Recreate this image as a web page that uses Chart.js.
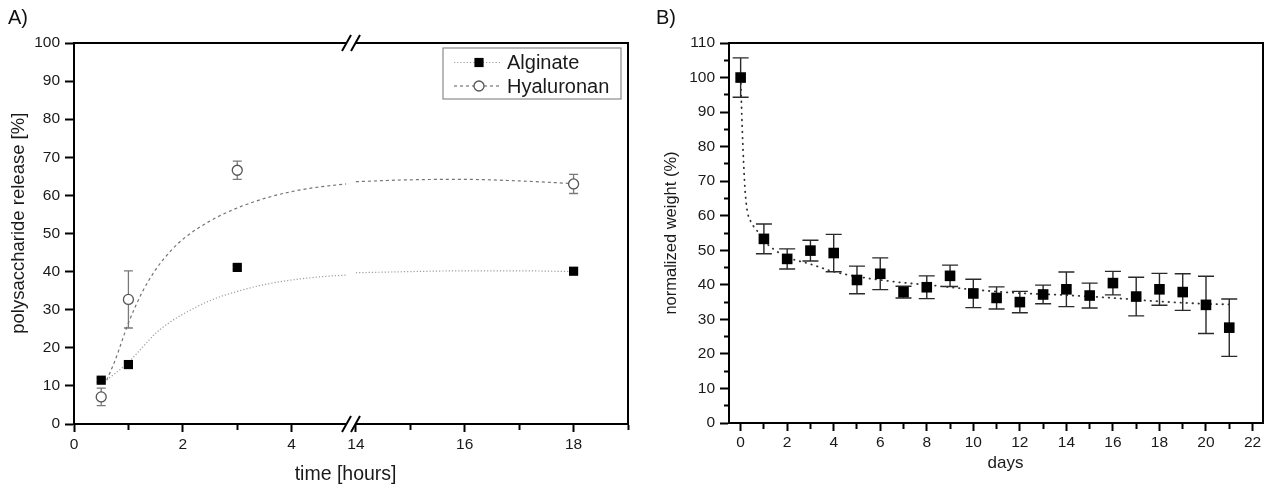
<!DOCTYPE html>
<html>
<head>
<meta charset="utf-8">
<script src="https://cdn.jsdelivr.net/npm/chart.js@4.4.1/dist/chart.umd.min.js"></script>
<style>
html, body { margin: 0; padding: 0; background: #fff; }
#wrap { position: relative; width: 1272px; height: 486px; overflow: hidden; }
.panel { position: absolute; top: 0; height: 486px; }
#pA { left: 0; width: 640px; }
#pB { left: 640px; width: 632px; }
.tag { position: absolute; top: 6px; font: 20px "Liberation Sans", Arial, sans-serif; color: #111; }
</style>
</head>
<body>
<div id="wrap">
  <div class="panel" id="pA"><canvas id="chartA"></canvas></div>
  <div class="panel" id="pB"><canvas id="chartB"></canvas></div>
  <div class="tag" style="left:8px">A)</div>
  <div class="tag" style="left:656px">B)</div>
</div>
<script>
// ---- A) polysaccharide release over time ----
const relTime = [0.5, 1, 3, 18];
const alginate = [11.5, 15.6, 41.1, 40.1];
const alginateSd = [0.5, 0.5, 0.5, 0.5];
const hyaluronan = [7.1, 32.7, 66.6, 63.0];
const hyaluronanSd = [2.3, 7.5, 2.4, 2.5];

// fitted release curves
const fitTime = [0.6, 0.75, 1, 1.25, 1.5, 1.75, 2, 2.5, 3, 3.5, 4, 4.5, 5, 14, 15, 16, 17, 18];
const alginateFit = [11.6, 13.2, 16.2, 20.0, 23.8, 26.6, 28.8, 32.4, 34.8, 36.6, 37.8, 38.6, 39.1, 39.7, 40.0, 40.2, 40.2, 40.0];
const hyaluronanFit = [11.5, 16.5, 26.5, 34.5, 40.5, 45.0, 48.5, 53.3, 56.7, 59.2, 61.0, 62.2, 63.0, 63.6, 64.1, 64.2, 63.8, 63.1];

const hourTicksLow = [0, 1, 2, 3, 4];
const hourTicksHigh = [14, 15, 16, 17, 18, 19];
const releaseTicks = [0, 10, 20, 30, 40, 50, 60, 70, 80, 90, 100];

// ---- B) normalized weight over days ----
const days = [0, 1, 2, 3, 4, 5, 6, 7, 8, 9, 10, 11, 12, 13, 14, 15, 16, 17, 18, 19, 20, 21];
const weight = [100, 53.3, 47.5, 49.9, 49.2, 41.4, 43.2, 37.9, 39.3, 42.6, 37.5, 36.2, 35.0, 37.2, 38.7, 36.9, 40.5, 36.6, 38.7, 37.9, 34.2, 27.6];
const weightSd = [5.7, 4.3, 2.9, 3.0, 5.4, 4.0, 4.6, 1.7, 3.3, 3.1, 4.1, 3.2, 3.1, 2.7, 5.0, 3.6, 3.4, 5.6, 4.6, 5.3, 8.3, 8.3];
const fitDays = [0, 0.03, 0.07, 0.13, 0.19, 0.27, 0.46, 0.67, 1, 1.4, 2, 3, 4, 5, 6, 7, 8, 9, 10, 12, 14, 16, 18, 20, 21.2];
const weightFit = [100, 93.5, 85, 75, 67.5, 62, 58, 56, 52.8, 50.4, 48.0, 46.0, 43.8, 42.4, 41.4, 40.6, 40.0, 39.3, 38.6, 37.6, 37.0, 36.2, 35.2, 34.5, 34.3];

const dayTicks = [0, 1, 2, 3, 4, 5, 6, 7, 8, 9, 10, 11, 12, 13, 14, 15, 16, 17, 18, 19, 20, 21, 22];
const weightTicks = [0, 5, 10, 15, 20, 25, 30, 35, 40, 45, 50, 55, 60, 65, 70, 75, 80, 85, 90, 95, 100, 105, 110];

const ink = '#1a1a1a';
const family = '"Liberation Sans", Arial, sans-serif';
Chart.defaults.font.family = family;
Chart.defaults.color = ink;

// points whose x lies inside [lo, hi], with optional sd
function pts(xs, ys, sd, lo, hi) {
  const out = [];
  xs.forEach((x, i) => {
    if (x >= lo && x <= hi) out.push({x: x, y: ys[i], sd: sd ? sd[i] : 0});
  });
  return out;
}

// vertical error bars with caps
const errorBars = {
  id: 'errorBars',
  beforeDatasetsDraw(chart) {
    const ctx = chart.ctx;
    chart.data.datasets.forEach((ds, di) => {
      if (!ds.errorBar) return;
      const meta = chart.getDatasetMeta(di);
      const xs = chart.scales[meta.xAxisID], ys = chart.scales[meta.yAxisID];
      const c = ds.errorBar.cap / 2;
      ctx.save();
      ctx.strokeStyle = ds.errorBar.color;
      ctx.lineWidth = ds.errorBar.width;
      ds.data.forEach(p => {
        if (!p.sd) return;
        const x = xs.getPixelForValue(p.x);
        const t = ys.getPixelForValue(p.y + p.sd), b = ys.getPixelForValue(p.y - p.sd);
        ctx.beginPath();
        ctx.moveTo(x, t); ctx.lineTo(x, b);
        ctx.moveTo(x - c, t); ctx.lineTo(x + c, t);
        ctx.moveTo(x - c, b); ctx.lineTo(x + c, b);
        ctx.stroke();
      });
      ctx.restore();
    });
  }
};

// "//" marks where the time axis jumps
const axisBreak = {
  id: 'axisBreak',
  afterDraw(chart, args, opts) {
    if (!opts.from) return;
    const bx = chart.scales[opts.from].right;
    const ctx = chart.ctx;
    [chart.chartArea.top, chart.chartArea.bottom].forEach(y => {
      ctx.save();
      ctx.fillStyle = '#fff';
      ctx.fillRect(bx - 4, y - 2, 8, 4);
      ctx.strokeStyle = '#000';
      ctx.lineWidth = 2;
      [-4.5, 4.5].forEach(d => {
        ctx.beginPath();
        ctx.moveTo(bx + d - 4.5, y + 8);
        ctx.lineTo(bx + d + 4.5, y - 8);
        ctx.stroke();
      });
      ctx.restore();
    });
  }
};

// framed legend with line + marker samples
const boxLegend = {
  id: 'boxLegend',
  afterDraw(chart, args, opts) {
    if (!opts.items) return;
    const ctx = chart.ctx;
    const area = chart.chartArea;
    const x0 = area.right - opts.right - opts.width, y0 = area.top + opts.top;
    ctx.save();
    ctx.strokeStyle = '#8a8a8a';
    ctx.lineWidth = 1.2;
    ctx.strokeRect(x0, y0, opts.width, opts.height);
    opts.items.forEach((it, i) => {
      const ln = chart.data.datasets[it.line], pt = chart.data.datasets[it.point];
      const y = y0 + opts.rowTop + i * opts.rowGap;
      ctx.save();
      ctx.setLineDash(ln.borderDash || []);
      ctx.strokeStyle = ln.borderColor;
      ctx.lineWidth = ln.borderWidth;
      ctx.beginPath();
      ctx.moveTo(x0 + 11, y); ctx.lineTo(x0 + 57, y);
      ctx.stroke();
      ctx.restore();
      ctx.fillStyle = pt.pointBackgroundColor;
      ctx.strokeStyle = pt.pointBorderColor;
      ctx.lineWidth = pt.pointBorderWidth;
      Chart.helpers.drawPoint(ctx, {pointStyle: pt.pointStyle, radius: pt.pointRadius, borderWidth: pt.pointBorderWidth, rotation: 0}, x0 + 36, y);
      ctx.fillStyle = ink;
      ctx.font = '20px ' + family;
      ctx.textBaseline = 'middle';
      ctx.fillText(it.label, x0 + 64, y + 1);
    });
    ctx.restore();
  }
};

Chart.register(errorBars, axisBreak, boxLegend);

function frameAxis(pos) {
  return {
    type: 'linear', position: pos, min: 0, max: 1,
    ticks: {display: false},
    grid: {display: false, drawTicks: false},
    border: {display: true, color: '#000', width: 2}
  };
}

function hourAxis(lo, hi, list) {
  return {
    type: 'linear', position: 'bottom', stack: 'hours', stackWeight: 1, weight: 0,
    min: lo, max: hi,
    afterBuildTicks: s => { s.ticks = list.map(v => ({value: v})); },
    afterFit: s => { s.height = 30; },
    ticks: {autoSkip: false, maxRotation: 0, padding: 3, font: {size: 15.5}, callback: v => (v % 2 === 0 ? v : '')},
    grid: {drawOnChartArea: false, tickLength: 8, tickColor: '#000', tickWidth: 2,
           tickBorderDash: c => (c.tick && c.tick.value % 2 ? [5, 50] : [])},
    border: {display: true, color: '#000', width: 2}
  };
}

const hyaEdge = '#555';
new Chart(document.getElementById('chartA'), {
  type: 'scatter',
  data: {
    datasets: [
      {label: 'Alginate', data: pts(relTime, alginate, alginateSd, 0, 5.09),
       pointStyle: 'rect', pointRadius: 6.5, pointBackgroundColor: '#000', pointBorderColor: '#000', pointBorderWidth: 0,
       errorBar: {color: '#777', width: 1.3, cap: 9}},
      {label: 'Alginate', data: pts(relTime, alginate, alginateSd, 13.91, 19), xAxisID: 'xb',
       pointStyle: 'rect', pointRadius: 6.5, pointBackgroundColor: '#000', pointBorderColor: '#000', pointBorderWidth: 0,
       errorBar: {color: '#777', width: 1.3, cap: 9}},
      {label: 'Hyaluronan', data: pts(relTime, hyaluronan, hyaluronanSd, 0, 5.09),
       pointStyle: 'circle', pointRadius: 5, pointBackgroundColor: '#fff', pointBorderColor: hyaEdge, pointBorderWidth: 1.3,
       errorBar: {color: '#7a7a7a', width: 1.3, cap: 9}},
      {label: 'Hyaluronan', data: pts(relTime, hyaluronan, hyaluronanSd, 13.91, 19), xAxisID: 'xb',
       pointStyle: 'circle', pointRadius: 5, pointBackgroundColor: '#fff', pointBorderColor: hyaEdge, pointBorderWidth: 1.3,
       errorBar: {color: '#7a7a7a', width: 1.3, cap: 9}},
      {label: 'Alginate fit', data: pts(fitTime, alginateFit, null, 0, 5.09), showLine: true, pointRadius: 0,
       borderColor: '#9c9c9c', borderWidth: 1.2, borderDash: [1.2, 2], cubicInterpolationMode: 'monotone'},
      {label: 'Alginate fit', data: pts(fitTime, alginateFit, null, 13.91, 19), xAxisID: 'xb', showLine: true, pointRadius: 0,
       borderColor: '#9c9c9c', borderWidth: 1.2, borderDash: [1.2, 2], cubicInterpolationMode: 'monotone'},
      {label: 'Hyaluronan fit', data: pts(fitTime, hyaluronanFit, null, 0, 5.09), showLine: true, pointRadius: 0,
       borderColor: '#747474', borderWidth: 1.2, borderDash: [3, 3], cubicInterpolationMode: 'monotone'},
      {label: 'Hyaluronan fit', data: pts(fitTime, hyaluronanFit, null, 13.91, 19), xAxisID: 'xb', showLine: true, pointRadius: 0,
       borderColor: '#747474', borderWidth: 1.2, borderDash: [3, 3], cubicInterpolationMode: 'monotone'}
    ]
  },
  options: {
    responsive: true, maintainAspectRatio: false, animation: false, events: [],
    layout: {padding: {top: 43, right: 12, bottom: 0, left: 0}},
    plugins: {
      legend: {display: false}, tooltip: {enabled: false},
      axisBreak: {from: 'x'},
      boxLegend: {right: 7, top: 5, width: 178, height: 51, rowTop: 14.5, rowGap: 23.5,
                  items: [{label: 'Alginate', line: 4, point: 0}, {label: 'Hyaluronan', line: 6, point: 2}]}
    },
    scales: {
      x: hourAxis(0, 5.09, hourTicksLow),
      xb: hourAxis(13.91, 19, hourTicksHigh),
      xTitle: {
        type: 'linear', position: 'bottom', weight: 1, min: 0, max: 1,
        ticks: {display: false}, grid: {display: false, drawTicks: false}, border: {display: false},
        // trailing spaces nudge the centred title slightly left
        title: {display: true, text: 'time [hours]  ', font: {size: 19.5}, padding: {top: 0, bottom: 0}},
        afterFit: s => { s.height = 32; }
      },
      xTop: frameAxis('top'),
      y: {
        type: 'linear', position: 'left', min: 0, max: 100,
        afterBuildTicks: s => { s.ticks = releaseTicks.map(v => ({value: v})); },
        afterFit: s => { s.width = 74; },
        ticks: {autoSkip: false, padding: 5, font: {size: 15.5}},
        grid: {drawOnChartArea: false, tickLength: 9, tickColor: '#000', tickWidth: 2},
        border: {display: true, color: '#000', width: 2},
        // leading spaces lift the rotated title a little above the axis middle
        title: {display: true, text: '    polysaccharide release [%]', font: {size: 18.5}, padding: {top: 8, bottom: 0}}
      },
      yRight: frameAxis('right')
    }
  }
});

new Chart(document.getElementById('chartB'), {
  type: 'scatter',
  data: {
    datasets: [
      {label: 'weight', data: pts(days, weight, weightSd, -1, 23),
       pointStyle: 'rect', pointRadius: 7.5, pointBackgroundColor: '#000', pointBorderColor: '#000', pointBorderWidth: 0,
       errorBar: {color: '#2a2a2a', width: 1.4, cap: 16}},
      {label: 'fit', data: pts(fitDays, weightFit, null, -1, 23), showLine: true, pointRadius: 0,
       borderColor: '#333', borderWidth: 1.8, borderDash: [0.5, 5.5], borderCapStyle: 'round', cubicInterpolationMode: 'monotone'}
    ]
  },
  options: {
    responsive: true, maintainAspectRatio: false, animation: false, events: [],
    layout: {padding: {top: 43, right: 9, bottom: 0, left: 0}},
    plugins: {legend: {display: false}, tooltip: {enabled: false}},
    scales: {
      x: {
        type: 'linear', position: 'bottom', min: -0.5, max: 22.45,
        afterBuildTicks: s => { s.ticks = dayTicks.map(v => ({value: v})); },
        afterFit: s => { s.height = 63; },
        ticks: {autoSkip: false, maxRotation: 0, padding: 2, font: {size: 15.5}, callback: v => (v % 2 === 0 ? v : '')},
        grid: {drawOnChartArea: false, tickLength: 8, tickColor: '#000', tickWidth: 2,
               tickBorderDash: c => (c.tick && c.tick.value % 2 ? [5, 50] : [])},
        border: {display: true, color: '#000', width: 2},
        title: {display: true, text: '    days', font: {size: 17}, padding: {top: 0, bottom: 12}}
      },
      xTop: frameAxis('top'),
      y: {
        type: 'linear', position: 'left', min: 0, max: 110,
        afterBuildTicks: s => { s.ticks = weightTicks.map(v => ({value: v})); },
        afterFit: s => { s.width = 89; },
        ticks: {autoSkip: false, padding: 5, font: {size: 15.5}, callback: v => (v % 10 === 0 ? v : '')},
        grid: {drawOnChartArea: false, tickLength: 9, tickColor: '#000', tickWidth: 2,
               tickBorderDash: c => (c.tick && c.tick.value % 10 ? [0, 4, 5, 50] : [])},
        border: {display: true, color: '#000', width: 2},
        title: {display: true, text: 'normalized weight (%)', font: {size: 16.5}, padding: {top: 22, bottom: 0}}
      },
      yRight: frameAxis('right')
    }
  }
});
</script>
</body>
</html>
